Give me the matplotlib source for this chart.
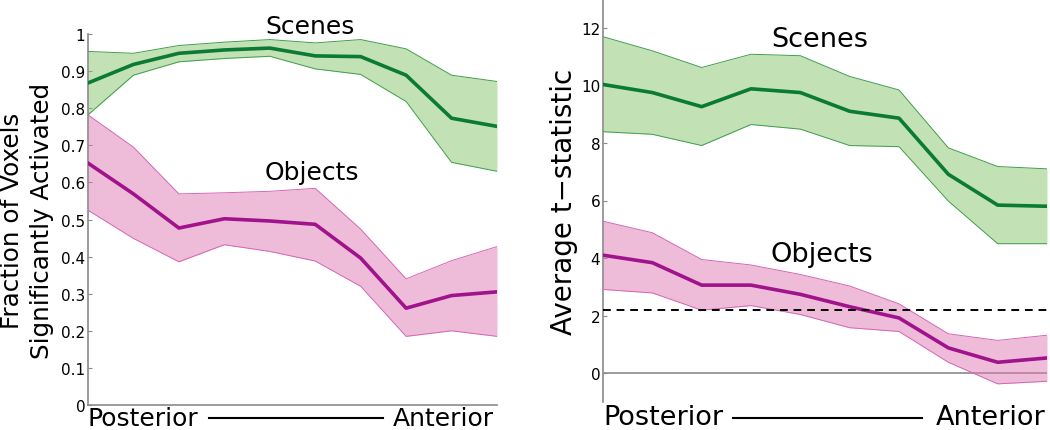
"""
Scene vs object responses along the posterior-anterior axis:
fraction of significant voxels (left) and average t-statistic (right).
"""

import numpy as np
import matplotlib
matplotlib.use("Agg")
import matplotlib.pyplot as plt

plt.rcParams["font.family"] = "DejaVu Sans"

# ---------------------------------------------------------------------------
# data, 10 positions posterior -> anterior
# ---------------------------------------------------------------------------
positions = list(range(10))

frac_scenes_mean  = [0.868, 0.918, 0.948, 0.957, 0.962, 0.941, 0.939, 0.889, 0.773, 0.751]
frac_scenes_upper = [0.953, 0.948, 0.969, 0.978, 0.985, 0.976, 0.985, 0.960, 0.889, 0.872]
frac_scenes_lower = [0.782, 0.889, 0.925, 0.934, 0.940, 0.906, 0.891, 0.818, 0.654, 0.630]

frac_objects_mean  = [0.652, 0.569, 0.477, 0.502, 0.496, 0.487, 0.396, 0.261, 0.295, 0.305]
frac_objects_upper = [0.782, 0.695, 0.569, 0.572, 0.576, 0.584, 0.474, 0.340, 0.389, 0.427]
frac_objects_lower = [0.525, 0.449, 0.386, 0.432, 0.414, 0.388, 0.320, 0.185, 0.200, 0.185]

t_scenes_mean  = [10.03, 9.75, 9.26, 9.88, 9.75, 9.10, 8.86, 6.91, 5.84, 5.80]
t_scenes_upper = [11.69, 11.20, 10.62, 11.08, 11.03, 10.31, 9.84, 7.83, 7.18, 7.10]
t_scenes_lower = [8.39, 8.30, 7.91, 8.64, 8.48, 7.91, 7.87, 5.98, 4.50, 4.50]

t_objects_mean  = [4.10, 3.84, 3.06, 3.06, 2.74, 2.31, 1.92, 0.88, 0.38, 0.53]
t_objects_upper = [5.28, 4.88, 3.95, 3.76, 3.43, 3.03, 2.41, 1.37, 1.14, 1.32]
t_objects_lower = [2.91, 2.79, 2.19, 2.35, 2.04, 1.58, 1.45, 0.38, -0.37, -0.28]

t_threshold = 2.18

frac_ticks = [0, 0.1, 0.2, 0.3, 0.4, 0.5, 0.6, 0.7, 0.8, 0.9, 1]
t_ticks = [0, 2, 4, 6, 8, 10, 12]

GREEN_FILL, GREEN_EDGE, GREEN_LINE = "#87c56b", "#3f9e4c", "#0a7a35"
PINK_FILL, PINK_EDGE, PINK_LINE = "#df79b3", "#d466b6", "#a0138c"
SPINE = "#8a8a8a"


def band(ax, mean, lo, hi, fill, edge, line):
    ax.fill_between(positions, lo, hi, color=fill, alpha=0.5, linewidth=0, zorder=2)
    ax.plot(positions, lo, color=edge, linewidth=0.7, zorder=3)
    ax.plot(positions, hi, color=edge, linewidth=0.7, zorder=3)
    ax.plot(positions, mean, color=line, linewidth=2.6, zorder=4)


def style_axis(ax):
    for side in ["top", "right"]:
        ax.spines[side].set_visible(False)
    ax.spines["left"].set_color(SPINE)
    ax.spines["left"].set_linewidth(1.2)
    ax.tick_params(axis="y", direction="in", length=3, width=0.8, color=SPINE,
                   labelsize=11, pad=2)
    ax.set_xticks([])
    ax.set_xlim(0, 9)


W, H = 1050, 431
fig = plt.figure(figsize=(W / 100, H / 100), dpi=100)

# ---------------------------------------------------------------------------
# left: fraction of voxels
# ---------------------------------------------------------------------------
ax1 = fig.add_axes([88 / W, 1 - 406 / H, (497 - 88) / W, (406 - 35) / H])
style_axis(ax1)
ax1.spines["bottom"].set_color(SPINE)
ax1.spines["bottom"].set_linewidth(1.2)
ax1.set_ylim(0, 1)
ax1.set_yticks(frac_ticks)
ax1.set_yticklabels([f"{v:g}" for v in frac_ticks])
band(ax1, frac_scenes_mean, frac_scenes_lower, frac_scenes_upper, GREEN_FILL, GREEN_EDGE, GREEN_LINE)
band(ax1, frac_objects_mean, frac_objects_lower, frac_objects_upper, PINK_FILL, PINK_EDGE, PINK_LINE)
fig.text(310 / W, 1 - 27 / H, "Scenes", fontsize=18, ha="center", va="center")
fig.text(312 / W, 1 - 173 / H, "Objects", fontsize=18, ha="center", va="center")
fig.text(27 / W, 1 - 221 / H, "Fraction of Voxels\nSignificantly Activated",
         fontsize=17.7, rotation=90, ha="center", va="center", linespacing=1.3)

# ---------------------------------------------------------------------------
# right: average t-statistic
# ---------------------------------------------------------------------------
ax2 = fig.add_axes([603 / W, 1 - 403 / H, (1047 - 603) / W, 403 / H])
style_axis(ax2)
ax2.spines["bottom"].set_visible(False)
ax2.set_ylim(-1, 13)
ax2.set_yticks(t_ticks)
ax2.axhline(0, color=SPINE, linewidth=1.2, zorder=1)
band(ax2, t_scenes_mean, t_scenes_lower, t_scenes_upper, GREEN_FILL, GREEN_EDGE, GREEN_LINE)
band(ax2, t_objects_mean, t_objects_lower, t_objects_upper, PINK_FILL, PINK_EDGE, PINK_LINE)
ax2.axhline(t_threshold, color="black", linewidth=1.4, linestyle=(0, (4, 3)), zorder=5)
fig.text(820 / W, 1 - 40 / H, "Scenes", fontsize=19.5, ha="center", va="center")
fig.text(822 / W, 1 - 255 / H, "Objects", fontsize=19.5, ha="center", va="center")
fig.text(564 / W, 1 - 202 / H, "Average t\u2212statistic",
         fontsize=20, rotation=90, ha="center", va="center")

# ---------------------------------------------------------------------------
# posterior -> anterior labels under each panel
# ---------------------------------------------------------------------------
for x0, l0, l1, x1, fs, base in [(88, 209, 383, 494, 18, 426), (603, 733, 922, 1046, 19.5, 425)]:
    fig.text(x0 / W, 1 - base / H, "Posterior", fontsize=fs, ha="left", va="baseline")
    fig.text(x1 / W, 1 - base / H, "Anterior", fontsize=fs, ha="right", va="baseline")
    fig.add_artist(plt.Line2D([l0 / W, l1 / W], [1 - 419 / H, 1 - 419 / H],
                              color="black", linewidth=1.5))

fig.savefig("out.png", dpi=100)
